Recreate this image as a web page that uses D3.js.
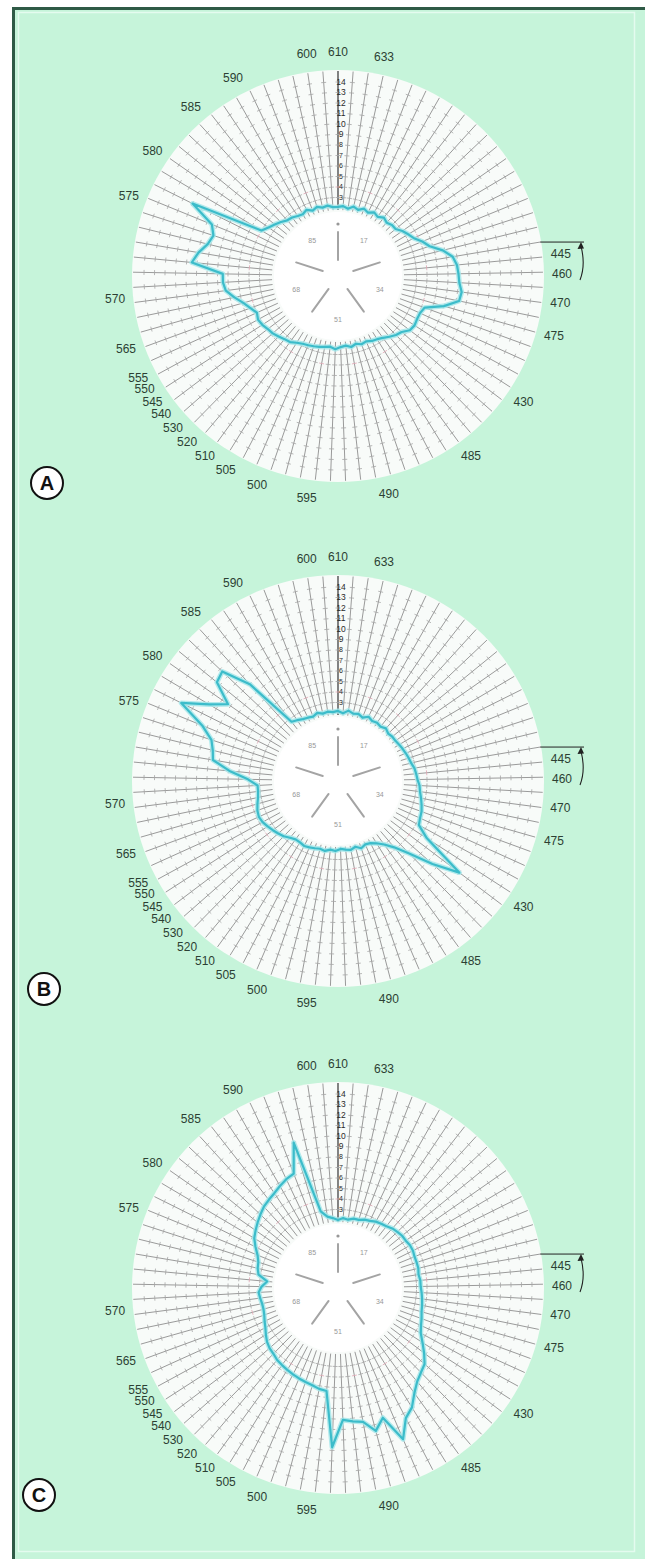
<!DOCTYPE html>
<html>
<head>
<meta charset="utf-8">
<script src="https://cdn.jsdelivr.net/npm/d3@7"></script>
<style>
  html, body { margin: 0; padding: 0; background: #ffffff; }
  svg { display: block; }
</style>
</head>
<body>
<svg id="chart" width="645" height="1559"></svg>
<script>
// ---- data -------------------------------------------------------------
const panelLetters = ["A", "B", "C"];
const capCount = 85;

// error score for each cap, cap 0 at the top, going clockwise
const errorsA = [
  2.1, 2.2, 2.0, 2.3, 2.1, 2.4, 2.2, 2.5, 2.3, 2.6,
  2.4, 2.6, 2.6, 3.0, 3.3, 3.6, 4.2, 4.7, 5.8, 6.6,
  6.9, 7.0, 7.1, 7.4, 7.3, 6.0, 4.3, 4.1, 4.1, 4.2,
  4.1, 3.6, 3.4, 3.1, 2.8, 2.6, 2.5, 2.3, 2.4, 2.2,
  2.4, 2.2, 2.3, 2.5, 2.3, 2.4, 2.5, 2.6, 2.7, 2.8,
  3.0, 3.3, 3.4, 3.6, 3.8, 3.9, 4.1, 4.2, 4.0, 4.4,
  4.9, 5.6, 6.3, 6.5, 6.5, 9.5, 9.0, 8.3, 8.0, 8.5,
  11.0, 4.0, 3.6, 3.3, 3.0, 2.7, 2.6, 2.4, 2.3, 2.5,
  2.2, 2.4, 2.2, 2.3, 2.1
];
const errorsB = [
  2.2, 2.0, 2.3, 2.1, 2.2, 2.0, 2.3, 2.1, 2.2, 2.1,
  2.3, 2.1, 2.2, 2.2, 2.3, 2.4, 2.5, 2.6, 2.7, 2.9,
  3.0, 3.1, 3.3, 3.4, 3.6, 3.8, 4.0, 4.1, 4.3, 5.6,
  10.0, 7.5, 5.2, 3.8, 3.0, 2.5, 2.2, 2.1, 2.3, 2.0,
  2.2, 2.1, 2.0, 2.2, 2.1, 2.3, 2.2, 2.3, 2.4, 2.5,
  2.4, 2.4, 2.6, 2.9, 3.1, 3.3, 3.5, 3.7, 3.8, 3.7,
  3.5, 3.3, 3.2, 3.2, 4.1, 5.9, 7.6, 7.8, 8.2, 9.5,
  12.2, 9.8, 8.3, 10.4, 10.7, 8.0, 2.7, 2.5, 2.3, 2.2,
  2.1, 2.3, 2.1, 2.2, 2.1
];
const errorsC = [
  2.0, 2.2, 2.1, 2.3, 2.3, 2.5, 2.6, 2.8, 2.9, 3.0,
  3.2, 3.3, 3.4, 3.4, 3.5, 3.5, 3.4, 3.4, 3.4, 3.3,
  3.4, 3.4, 3.5, 3.6, 3.7, 3.8, 4.0, 4.2, 4.5, 5.1,
  5.8, 6.5, 6.8, 7.2, 7.9, 8.9, 9.5, 11.2, 8.6, 9.6,
  8.5, 8.3, 8.1, 10.7, 5.4, 5.3, 5.1, 5.0, 4.9, 4.8,
  4.7, 4.6, 4.5, 4.3, 4.2, 4.0, 3.7, 3.4, 3.2, 3.0,
  2.9, 2.9, 3.0, 3.1, 2.8, 2.3, 3.2, 3.4, 3.5, 3.8,
  4.3, 4.8, 5.1, 5.4, 5.7, 6.0, 6.2, 6.4, 6.7, 7.0,
  7.2, 10.0, 3.0, 2.4, 2.2
];

// wavelength markers (nm) round the dial, and the cap each one sits at
const wavelengthLabels = ["610", "633", "445", "460", "470", "475", "430", "485", "490",
  "595", "500", "505", "510", "520", "530", "540", "545", "550", "555", "565", "570",
  "575", "580", "585", "590", "600"];
const wavelengthCaps = [0, 2.8, 19.9, 21.1, 22.9, 24.9, 29.3, 33.9, 39.4,
  44.4, 47.5, 49.6, 51.1, 52.5, 53.7, 54.8, 55.7, 56.6, 57.4, 59.3, 62.4,
  68.7, 71.8, 75.3, 78.4, 83.1];

// error-score scale printed along the top spoke
const scaleTicks = [14, 13, 12, 11, 10, 9, 8, 7, 6, 5, 4, 3];
const scaleMin = 2, scaleMax = 14;

// numbers inside the centre disc
const hubLabels = ["17", "34", "51", "68", "85"];

const panels = [errorsA, errorsB, errorsC];

// ---- layout -----------------------------------------------------------
const W = 645, H = 1559;
const cx = 338;
const centersY = [276, 781, 1288];
const badgePos = [[47, 483], [44, 989], [39, 1495]];
const innerR = 64, outerR = 205, labelR = 224;

const svg = d3.select("#chart");

// page background and frame
svg.append("rect").attr("width", W).attr("height", H).attr("fill", "#ffffff");
svg.append("rect").attr("x", 12).attr("y", 7).attr("width", W - 12).attr("height", H - 7)
  .attr("fill", "#c6f4da");
svg.append("path").attr("d", `M13.5,${H} V8.5 H${W}`)
  .attr("fill", "none").attr("stroke", "#2f5a46").attr("stroke-width", 3);
svg.append("rect").attr("x", 18.5).attr("y", 12.5).attr("width", 616).attr("height", 1539)
  .attr("fill", "none").attr("stroke", "#e4fbef").attr("stroke-width", 1.5);

// scales
const r = d3.scaleLinear().domain([scaleMin, scaleMax]).range([68, 194]);
const ang = d3.scaleLinear().domain([0, capCount]).range([0, 2 * Math.PI]);
const px = (a, rad) => rad * Math.sin(a);
const py = (a, rad) => -rad * Math.cos(a);

const caps = d3.range(capCount);
const tickVals = d3.range(3, 15);

panels.forEach((errors, pi) => {
  const cy = centersY[pi];
  const g = svg.append("g").attr("transform", `translate(${cx},${cy})`);

  // white dial
  g.append("circle").attr("r", outerR + 1).attr("fill", "#f8fbf9");

  // spokes
  g.append("g").selectAll("line").data(caps).join("line")
    .attr("x1", d => px(ang(d), innerR + 2)).attr("y1", d => py(ang(d), innerR + 2))
    .attr("x2", d => px(ang(d), outerR)).attr("y2", d => py(ang(d), outerR))
    .attr("stroke", d => d === 0 ? "#333333" : "#8e8e8e")
    .attr("stroke-width", d => d === 0 ? 1.2 : 0.9);

  // unit ticks across each spoke
  const tickData = [];
  caps.forEach(c => tickVals.forEach(v => tickData.push({ c, v })));
  g.append("g").selectAll("line").data(tickData).join("line")
    .attr("x1", d => { const a = ang(d.c); return px(a, r(d.v)) + 2.5 * Math.cos(a); })
    .attr("y1", d => { const a = ang(d.c); return py(a, r(d.v)) + 2.5 * Math.sin(a); })
    .attr("x2", d => { const a = ang(d.c); return px(a, r(d.v)) - 2.5 * Math.cos(a); })
    .attr("y2", d => { const a = ang(d.c); return py(a, r(d.v)) - 2.5 * Math.sin(a); })
    .attr("stroke", d => d.v === 4 && d.c % 5 === 0 ? "#e0a4b2" : "#a6a6a6")
    .attr("stroke-width", 0.8);

  // centre disc
  g.append("circle").attr("r", innerR).attr("fill", "#ffffff");
  const hub = d3.range(5);
  g.append("g").selectAll("line").data(hub).join("line")
    .attr("x1", d => px(d * 2 * Math.PI / 5, 16)).attr("y1", d => py(d * 2 * Math.PI / 5, 16))
    .attr("x2", d => px(d * 2 * Math.PI / 5, 44)).attr("y2", d => py(d * 2 * Math.PI / 5, 44))
    .attr("stroke", "#a4a4a4").attr("stroke-width", 2).attr("stroke-linecap", "round");
  g.append("g").selectAll("text").data(hubLabels).join("text")
    .attr("x", (d, i) => px((i + 0.5) * 2 * Math.PI / 5, 44))
    .attr("y", (d, i) => py((i + 0.5) * 2 * Math.PI / 5, 44))
    .attr("text-anchor", "middle").attr("dy", "0.35em")
    .attr("font-family", "Liberation Sans, Arial, sans-serif").attr("font-size", 7)
    .attr("fill", "#989898").text(d => d);
  g.append("circle").attr("cx", 0).attr("cy", -52).attr("r", 1.6).attr("fill", "#989898");

  // error-score numbers on the top spoke
  g.append("g").selectAll("text").data(scaleTicks).join("text")
    .attr("x", 3).attr("y", d => -r(d))
    .attr("text-anchor", "middle").attr("dy", "0.35em")
    .attr("font-family", "Liberation Sans Narrow, Liberation Sans, Arial, sans-serif")
    .attr("font-size", d => d >= 9 ? 8.5 : 7)
    .attr("fill", "#2a2a2a").text(d => d);

  // error curve
  const line = d3.lineRadial()
    .angle((d, i) => ang(i))
    .radius(d => r(d))
    .curve(d3.curveLinearClosed);
  g.append("path").attr("d", line(errors))
    .attr("fill", "none").attr("stroke", "#a6e6ea").attr("stroke-width", 5)
    .attr("stroke-linejoin", "round").attr("opacity", 0.85);
  g.append("path").attr("d", line(errors))
    .attr("fill", "none").attr("stroke", "#3cbcca").attr("stroke-width", 2.2)
    .attr("stroke-linejoin", "round");

  // wavelength labels
  g.append("g").selectAll("text").data(wavelengthLabels).join("text")
    .attr("x", (d, i) => px(ang(wavelengthCaps[i]), labelR))
    .attr("y", (d, i) => py(ang(wavelengthCaps[i]), labelR))
    .attr("text-anchor", "middle").attr("dy", "0.35em")
    .attr("font-family", "Liberation Sans Narrow, Liberation Sans, Arial, sans-serif")
    .attr("font-size", 12).attr("fill", "#2c3f33")
    .text(d => d);

  // direction arrow on the right
  const startA = ang(19);
  const yTop = py(startA, outerR);
  g.append("line")
    .attr("x1", px(startA, outerR)).attr("y1", yTop)
    .attr("x2", 246).attr("y2", yTop)
    .attr("stroke", "#222").attr("stroke-width", 1);
  g.append("path")
    .attr("d", `M242,4 C246,-6 246,-18 243,${yTop + 4}`)
    .attr("fill", "none").attr("stroke", "#222").attr("stroke-width", 1.1);
  g.append("path")
    .attr("d", `M243,${yTop} L239.5,${yTop + 7} L246,${yTop + 6.5} Z`)
    .attr("fill", "#222");

  // panel badge
  const [bx, by] = badgePos[pi];
  svg.append("circle").attr("cx", bx).attr("cy", by).attr("r", 16)
    .attr("fill", "#ffffff").attr("stroke", "#111").attr("stroke-width", 2);
  svg.append("text").attr("x", bx).attr("y", by).attr("dy", "0.36em")
    .attr("text-anchor", "middle")
    .attr("font-family", "Liberation Sans, Arial, sans-serif").attr("font-weight", "bold")
    .attr("font-size", 20).attr("fill", "#111").text(panelLetters[pi]);
});
</script>
</body>
</html>
